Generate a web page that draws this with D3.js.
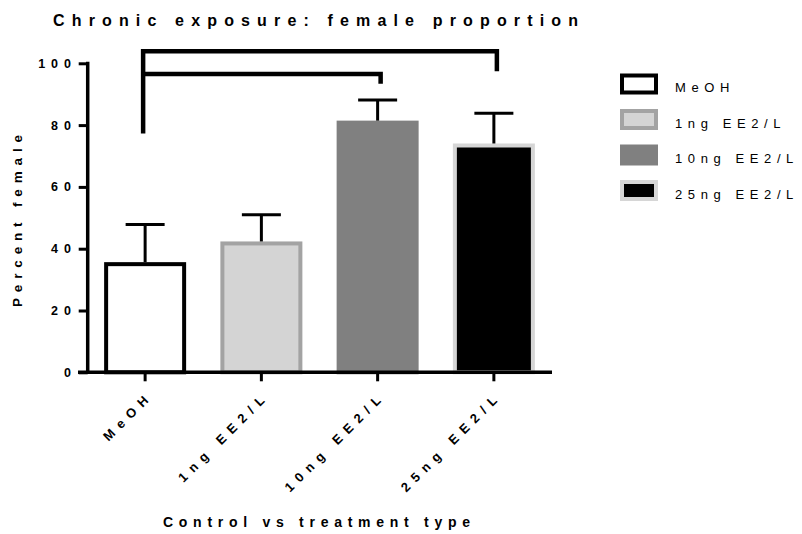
<!DOCTYPE html>
<html><head><meta charset="utf-8">
<script src="https://cdn.jsdelivr.net/npm/d3@7"></script>
<style>
body{margin:0;background:#fff;}
svg{display:block;font-family:"Liberation Sans",Arial,sans-serif;}
</style></head>
<body>
<svg id="chart" width="802" height="534"></svg>
<script>
// ---- data ----
const categories = ["MeOH", "1ng EE2/L", "10ng EE2/L", "25ng EE2/L"];
const means = [35.0, 41.7, 80.8, 73.4];
const errUpper = [47.8, 51.0, 88.1, 83.8];
const yTicks = [0, 20, 40, 60, 80, 100];
const fills = ["#ffffff", "#d4d4d4", "#808080", "#000000"];
const strokes = ["#000000", "#a3a3a3", "#808080", "#d6d6d6"];
// significance brackets
const bracketFrom = ["MeOH", "MeOH"];
const bracketTo = ["25ng EE2/L", "10ng EE2/L"];
const bracketTop = [103.9, 96.5];
const bracketEnd = [97.4, 93.4];
const bracketStart = 77.3;
const title = "Chronic exposure: female proportion";
const yTitle = "Percent female";
const xTitle = "Control vs treatment type";

const svg = d3.select("#chart");
const x = d3.scaleBand().domain(categories).range([87, 552]).paddingInner(0).paddingOuter(0);
const y = d3.scaleLinear().domain([0, 100]).range([372.3, 63.3]);
const cx = c => x(c) + x.bandwidth() / 2;

function fitText(g, text, x0, y0, width, opts) {
  const t = g.append("text").attr("x", 0).attr("y", 0).text(text)
    .attr("font-size", opts.size).attr("font-weight", opts.weight || "bold");
  const w = t.node().getComputedTextLength();
  const s = (width - w) / (text.length - 1);
  t.attr("letter-spacing", s);
  let sx = x0;
  if (opts.anchor === "middle") sx = x0 - width / 2;
  if (opts.anchor === "end") sx = x0 - width;
  t.attr("x", sx).attr("y", y0);
  return t;
}

// bars
const barW = 78;
svg.append("g").selectAll("rect").data(categories).join("rect")
  .attr("x", d => cx(d) - barW / 2)
  .attr("width", barW)
  .attr("y", (d, i) => y(means[i]))
  .attr("height", (d, i) => y(0) - y(means[i]))
  .attr("fill", (d, i) => fills[i])
  .attr("stroke", (d, i) => strokes[i])
  .attr("stroke-width", 4);

// error bars
const eg = svg.append("g").attr("stroke", "#000").attr("stroke-width", 3).attr("fill", "none");
categories.forEach((c, i) => {
  eg.append("line").attr("x1", cx(c)).attr("x2", cx(c)).attr("y1", y(means[i]) - 2).attr("y2", y(errUpper[i]));
  eg.append("line").attr("x1", cx(c) - 19.5).attr("x2", cx(c) + 19.5).attr("y1", y(errUpper[i])).attr("y2", y(errUpper[i]));
});

// axes
const yAxis = svg.append("g").attr("transform", "translate(87.7,0)")
  .call(d3.axisLeft(y).tickValues(yTicks).tickSize(9).tickSizeOuter(0).tickFormat(""));
yAxis.select(".domain").attr("stroke-width", 3.5).attr("d", `M0,${y(0)+1.7}V${y(100)-1.5}`);
yAxis.selectAll(".tick line").attr("stroke-width", 3);
const yl = svg.append("g");
const ySp = 6;
yTicks.forEach(v => {
  yl.append("text").attr("font-size", 12.5).attr("font-weight", "bold")
    .attr("text-anchor", "end").attr("x", 71 + ySp).attr("y", y(v) + 4.5)
    .attr("letter-spacing", ySp).text(String(v));
});

const xAxis = svg.append("g").attr("transform", `translate(0,${y(0)})`)
  .call(d3.axisBottom(x).tickSize(9).tickSizeOuter(0).tickFormat(""));
xAxis.select(".domain").attr("stroke-width", 3.5).attr("d", `M78,0H552`);
xAxis.selectAll(".tick line").attr("stroke-width", 3);
const xl = svg.append("g");
const xSp = 6.6;
categories.forEach(c => {
  const px = cx(c) + 4, py = y(0) + 29;
  xl.append("text").attr("font-size", 13).attr("font-weight", "bold")
    .attr("text-anchor", "end").attr("letter-spacing", xSp)
    .attr("x", xSp).attr("y", 0)
    .attr("transform", `translate(${px},${py}) rotate(-45)`)
    .text(c);
});

// brackets
const bg = svg.append("g").attr("stroke", "#000").attr("stroke-width", 4.5).attr("fill", "none");
bracketFrom.forEach((f, i) => {
  const x1 = cx(f) - 2, x2 = cx(bracketTo[i]) + 3;
  bg.append("path").attr("d",
    `M${x1},${y(i === 0 ? bracketStart : bracketTop[i])}V${y(bracketTop[i])}H${x2}V${y(bracketEnd[i])}`)
    .attr("stroke-linejoin", "miter");
});

// titles
fitText(svg, title, 53, 26, 525, {size: 16});
fitText(svg, xTitle, 163, 527, 307, {size: 14});
const yt = svg.append("g").attr("transform", "translate(22,307) rotate(-90)");
fitText(yt, yTitle, 0, 0, 172, {size: 13.5});

// legend
const lg = svg.append("g");
categories.forEach((c, i) => {
  const yc = 84 + i * 35.5;
  lg.append("rect").attr("x", 622).attr("y", yc - 8.5).attr("width", 34).attr("height", 17)
    .attr("fill", fills[i]).attr("stroke", strokes[i]).attr("stroke-width", 4);
  lg.append("text").attr("x", 675).attr("y", yc + 8).attr("font-size", 13)
    .attr("letter-spacing", 5.6).text(c);
});
</script>
</body></html>
